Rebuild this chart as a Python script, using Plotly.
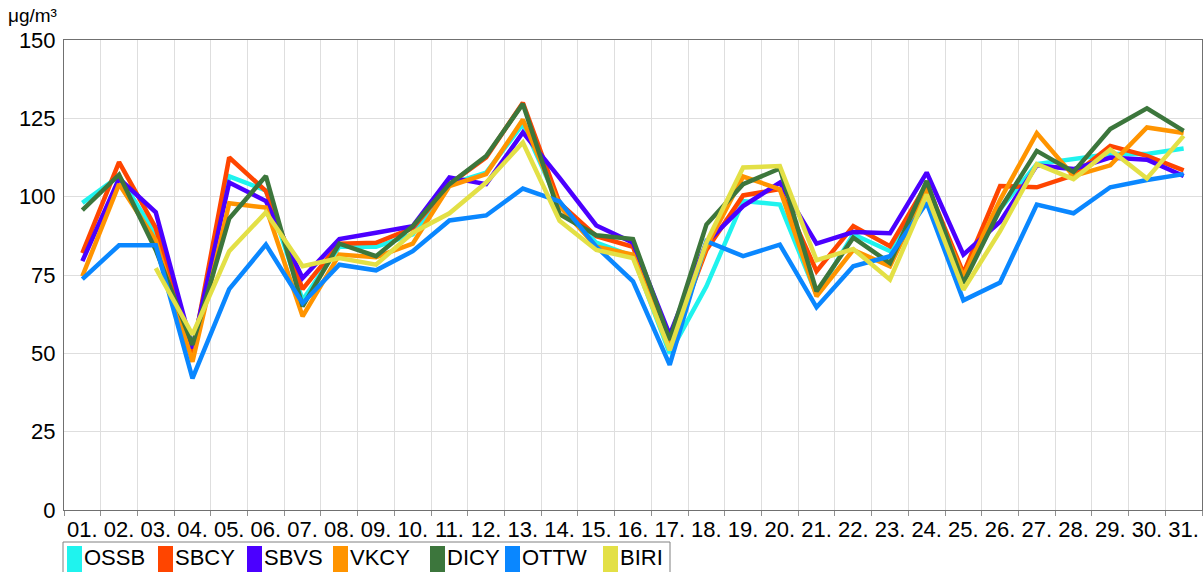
import plotly.graph_objects as go

# ---------------- data ----------------
days = ["%02d." % d for d in range(1, 32)]

OSSB = [98, 106.5, 88, 51, 106.5, 102, 67, 84, 84, 88, 104, 107.7, 123.2, 97, 85.3, 81, 50, 71.4,
        98.6, 97.5, 68.7, 88, 82.6, 103.5, 73, 96, 110.4, 112, 113.6, 113.6, 115.4]
SBCY = [82, 111, 90, 50, 112.5, 101.8, 70.5, 85, 85.3, 90, 104, 112.5, 130, 98, 87.4, 84, 52, 83,
        100.4, 102.4, 76.2, 90.6, 84.2, 104, 75.6, 103.4, 103, 106.8, 116.2, 113, 108.4]
SBVS = [79.4, 105.8, 95, 51.6, 104.5, 98.6, 74, 86.5, 88.5, 90.6, 106.1, 104, 120.5, 106, 90.8, 85.3, 55.9, 85.3,
        97, 104.5, 85, 88.7, 88.3, 107.7, 81.5, 92, 110, 108.8, 112.5, 111.8, 106.6]
VKCY = [74.6, 104, 86, 47.3, 97.9, 96.5, 61.8, 81.5, 80.7, 85, 103.4, 107.2, 124.6, 97, 84, 81.5, 51.6, 84,
        106.4, 102.4, 68.2, 83, 77.8, 102.4, 74.6, 99, 120.3, 106.6, 110, 122.1, 120.3]
DICY = [95.7, 107, 83, 52.7, 93, 106.6, 65, 85, 81, 90.6, 104, 113, 129.6, 94.4, 87.7, 86.5, 54.3, 91.1,
        104, 109, 69.8, 86.9, 78.8, 105, 72.4, 96, 114.6, 107.9, 121.6, 128.2, 121]
OTTW = [73.7, 84.5, 84.5, 42, 70.5, 84.7, 66, 78.3, 76.5, 82.6, 92.4, 94, 102.6, 98.5, 84, 73, 46.3, 85.8,
        81, 84.7, 64.7, 77.8, 81, 98.1, 66.9, 72.6, 97.5, 94.7, 103, 105.3, 107.2]
BIRI = [None, None, 77.2, 56, 82.6, 95, 77.8, 80.4, 78.3, 88.5, 94.7, 104.5, 117.3, 92.3, 83, 80.4, 51, 85.4,
        109.3, 109.8, 79.7, 83.3, 73.5, 100.7, 70.3, 89, 110.4, 105.6, 115, 105.8, 119.4]

series_names = ["OSSB", "SBCY", "SBVS", "VKCY", "DICY", "OTTW", "BIRI"]
series_values = [OSSB, SBCY, SBVS, VKCY, DICY, OTTW, BIRI]
y_ticks = [0, 25, 50, 75, 100, 125, 150]
unit_label = "μg/m³"

# ---------------- style ----------------
colors = ["#1FF3EE", "#FF4500", "#4B00FF", "#FF9400", "#3C763C", "#0A87FF", "#E3E046"]
FONT = "Liberation Sans, Arial, sans-serif"
W, H = 1204, 572
ML, MR, MT, MB = 64, 2, 40, 62
PW, PH = W - ML - MR, H - MT - MB

def px_x(p):
    return (p - ML) / PW

def px_y(p):
    return (H - MB - p) / PH

fig = go.Figure()
for name, vals, col in zip(series_names, series_values, colors):
    fig.add_trace(go.Scatter(
        x=days, y=vals, name=name, mode="lines",
        line=dict(color=col, width=4.5), connectgaps=False,
        showlegend=False,
    ))

# manual legend (swatch + label) below the plot
legend_swatch_px = [67, 158, 247, 333, 430, 505, 603]
shapes = [dict(type="rect", xref="paper", yref="paper",
               x0=px_x(63), x1=px_x(670), y0=px_y(542), y1=px_y(600),
               line=dict(color="#808080", width=1), fillcolor="rgba(0,0,0,0)")]
annotations = []
for name, col, sx in zip(series_names, colors, legend_swatch_px):
    shapes.append(dict(type="rect", xref="paper", yref="paper",
                       x0=px_x(sx), x1=px_x(sx + 15), y0=px_y(546), y1=px_y(600),
                       line=dict(width=0), fillcolor=col))
    annotations.append(dict(text=name, xref="paper", yref="paper",
                            x=px_x(sx + 15), y=px_y(557), xanchor="left", yanchor="middle",
                            showarrow=False, font=dict(family=FONT, size=22, color="black")))

annotations.append(dict(text=unit_label, xref="paper", yref="paper",
                        x=px_x(6), y=px_y(16), xanchor="left", yanchor="middle",
                        showarrow=False, font=dict(family=FONT, size=19, color="black")))

fig.update_layout(
    width=W, height=H,
    margin=dict(l=ML, r=MR, t=MT, b=MB, pad=0, autoexpand=False),
    paper_bgcolor="white", plot_bgcolor="white",
    showlegend=False,
    font=dict(family=FONT, color="black"),
    shapes=shapes, annotations=annotations,
    xaxis=dict(
        type="category", tickson="boundaries", categoryorder="array", categoryarray=days,
        range=[-0.5, 30.5], automargin=False, tickangle=0,
        showgrid=True, gridcolor="#dedede", gridwidth=1,
        showline=True, linecolor="#707070", linewidth=1, mirror=True,
        ticks="outside", ticklen=5, tickcolor="#909090",
        tickfont=dict(family=FONT, size=22, color="black"),
        zeroline=False, fixedrange=True,
    ),
    yaxis=dict(
        range=[0, 150], tickvals=y_ticks, ticktext=[str(v) for v in y_ticks],
        automargin=False,
        showgrid=True, gridcolor="#dedede", gridwidth=1,
        showline=True, linecolor="#707070", linewidth=1, mirror=True,
        ticks="", ticklabelstandoff=3,
        tickfont=dict(family=FONT, size=22, color="black"),
        zeroline=False, fixedrange=True,
    ),
)

fig.write_html(
    "out.html",
    config={"displayModeBar": False},
    post_script="document.body.style.margin='0';document.body.style.overflow='hidden';",
)
